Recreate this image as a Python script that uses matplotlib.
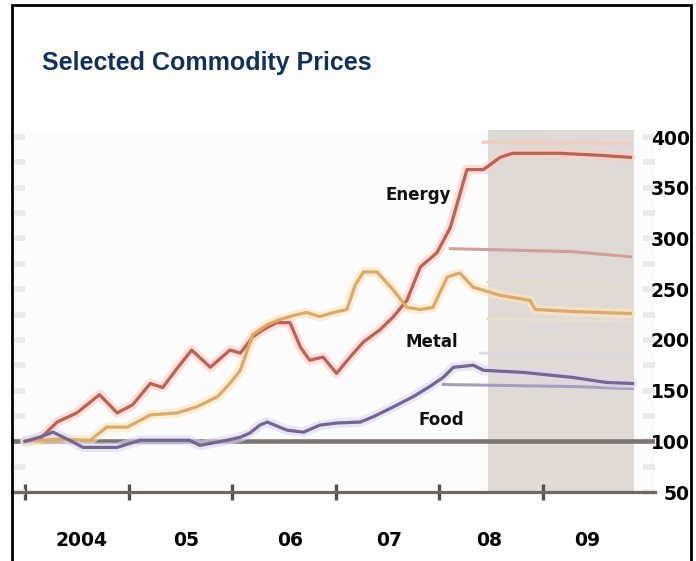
#!/usr/bin/env python3
"""
Selected Commodity Prices (index, 2004 = 100), with the 2008-09 projection shaded.
"""

import matplotlib
matplotlib.use("Agg")
import matplotlib.pyplot as plt
from matplotlib.patches import Rectangle

plt.rcParams["font.family"] = ["Liberation Sans", "DejaVu Sans"]

# --- data (decimal years, index values) ---
energy_t = [2004.00, 2004.15, 2004.31, 2004.50, 2004.72, 2004.89, 2005.04, 2005.21,
            2005.33, 2005.47, 2005.61, 2005.79, 2005.98, 2006.08, 2006.20, 2006.30,
            2006.43, 2006.56, 2006.66, 2006.75, 2006.88, 2007.01, 2007.14, 2007.27,
            2007.43, 2007.56, 2007.69, 2007.82, 2007.98, 2008.11, 2008.27, 2008.43,
            2008.59, 2008.71, 2009.17, 2009.56, 2009.85]
energy_v = [100, 103, 119, 128, 146, 128, 136, 157,
            153, 172, 190, 173, 190, 187, 203, 210,
            217, 217, 193, 180, 183, 167, 183, 198,
            210, 223, 239, 272, 286, 311, 368, 368,
            380, 384, 384, 382, 380]

metal_t = [2004.00, 2004.31, 2004.63, 2004.79, 2004.99, 2005.21, 2005.47, 2005.66,
           2005.86, 2005.98, 2006.08, 2006.20, 2006.34, 2006.46, 2006.59, 2006.72,
           2006.85, 2006.98, 2007.11, 2007.19, 2007.27, 2007.40, 2007.56, 2007.69,
           2007.82, 2007.94, 2008.08, 2008.20, 2008.33, 2008.59, 2008.88, 2008.93,
           2009.29, 2009.85]
metal_v = [100, 102, 101, 114, 114, 126, 128, 134,
           144, 157, 170, 205, 215, 220, 224, 227,
           223, 227, 230, 254, 267, 267, 249, 232,
           230, 232, 262, 266, 252, 244, 239, 230,
           228, 226]

food_t = [2004.00, 2004.14, 2004.27, 2004.43, 2004.56, 2004.89, 2005.11, 2005.59,
          2005.69, 2005.95, 2006.08, 2006.17, 2006.27, 2006.34, 2006.53, 2006.69,
          2006.85, 2007.01, 2007.24, 2007.36, 2007.56, 2007.75, 2007.91, 2008.04,
          2008.14, 2008.33, 2008.43, 2008.81, 2009.29, 2009.62, 2009.87]
food_v = [100, 104, 109, 101, 94, 94, 101, 101,
          96, 101, 104, 108, 116, 119, 111, 109,
          116, 118, 119, 124, 134, 144, 154, 163,
          173, 175, 170, 168, 163, 158, 157]

# projection bands (start year, end year) and values at both ends
energy_low_t, energy_low = [2008.11, 2009.29, 2009.85], [290, 287, 282]
energy_high_t, energy_high = [2008.43, 2009.85], [395, 394]
metal_high_t, metal_high = [2008.47, 2009.85], [257, 254]
metal_low_t, metal_low = [2008.47, 2009.85], [221, 218]
food_high_t, food_high = [2008.40, 2009.85], [187, 184]
food_low_t, food_low = [2008.04, 2009.29, 2009.87], [156, 154, 152]

forecast_span = (2008.47, 2009.88)
year_ticks = [2004, 2005, 2006, 2007, 2008, 2009]
year_label_pos = [2004.55, 2005.56, 2006.56, 2007.52, 2008.48, 2009.43]
year_labels = ["2004", "05", "06", "07", "08", "09"]
value_ticks = [50, 100, 150, 200, 250, 300, 350, 400]

series_labels = {"Energy": (2007.80, 343), "Metal": (2007.93, 198), "Food": (2008.02, 121)}

ENERGY = "#bf5f55"
METAL = "#dcaa68"
FOOD = "#756592"
BOLD_WIDE = ["DejaVu Sans"]


def main():
    fig = plt.figure(figsize=(6.96, 5.61), dpi=100)
    ax = fig.add_axes([12 / 696, 69 / 561, 643 / 696, 362 / 561])
    ax.set_facecolor("#fcfcfc")

    # shaded projection period
    ax.axvspan(*forecast_span, color="#e0dad6", lw=0, zorder=0)

    # faint bands
    ax.plot(energy_high_t, energy_high, color="#efcdc2", lw=2.5, zorder=1)
    ax.plot(energy_low_t, energy_low, color="#d2a097", lw=2.2, zorder=1)
    ax.plot(metal_high_t, metal_high, color="#e9dcc6", lw=2.0, zorder=1)
    ax.plot(metal_low_t, metal_low, color="#e8dfcd", lw=2.0, zorder=1)
    ax.plot(food_high_t, food_high, color="#dbd7e4", lw=2.0, zorder=1)
    ax.plot(food_low_t, food_low, color="#a59cc2", lw=2.2, zorder=1)

    # reference line at 100
    ax.axhline(100, color="#7a7572", lw=3.3, zorder=2)

    # main series with a soft halo like the printed original
    for t, v, c, halo in [(energy_t, energy_v, ENERGY, "#f6cfc2"),
                          (metal_t, metal_v, METAL, "#fbe6bf"),
                          (food_t, food_v, FOOD, "#dcd8ee")]:
        ax.plot(t, v, color=halo, lw=7, alpha=0.6, zorder=3, solid_capstyle="round")
        ax.plot(t, v, color=c, lw=2.3, zorder=4)

    for name, (x, y) in series_labels.items():
        ax.text(x, y, name, ha="center", va="center", fontsize=12,
                fontweight="bold", family=BOLD_WIDE, color="#111111", zorder=5)

    ax.set_xlim(2003.874, 2010.087)
    ax.set_ylim(50, 407)

    # spines: only the bottom axis line
    for side in ["top", "left", "right"]:
        ax.spines[side].set_visible(False)
    ax.spines["bottom"].set_color("#6f6965")
    ax.spines["bottom"].set_linewidth(2.3)

    # x: year boundaries as ticks, labels centred in each year
    ax.set_xticks(year_ticks)
    ax.set_xticklabels([])
    ax.set_xticks(year_label_pos, minor=True)
    ax.set_xticklabels(year_labels, minor=True)
    ax.tick_params(axis="x", which="major", direction="inout", length=12,
                   width=2.4, color="#55504c")
    ax.tick_params(axis="x", which="minor", length=0, pad=28)
    for lab in ax.get_xticklabels(minor=True):
        lab.set_fontsize(13.5)
        lab.set_fontweight("bold")
        lab.set_family(BOLD_WIDE)

    # y: labels on the right, faint marks on both sides
    ax.yaxis.tick_right()
    ax.set_yticks(value_ticks)
    ax.set_yticks(range(75, 400, 50), minor=True)
    ax.tick_params(axis="y", which="both", left=True, right=True, direction="in",
                   length=9, width=4, color="#ebe9e9")
    ax.tick_params(axis="y", which="major", pad=25)
    for lab in ax.get_yticklabels():
        lab.set_horizontalalignment("right")
        lab.set_fontsize(13.5)
        lab.set_fontweight("bold")
        lab.set_family(BOLD_WIDE)

    fig.text(42 / 696, 1 - 63 / 561, "Selected Commodity Prices", ha="left",
             va="center", fontsize=18, fontweight="bold", color="#10305e")

    # outer frame of the panel
    fig.patches.append(Rectangle((12 / 696, -0.05), 679 / 696, 1.05 - 5 / 561,
                                 transform=fig.transFigure, fill=False,
                                 edgecolor="black", lw=2))

    fig.savefig("out.png", dpi=100)


if __name__ == "__main__":
    main()
